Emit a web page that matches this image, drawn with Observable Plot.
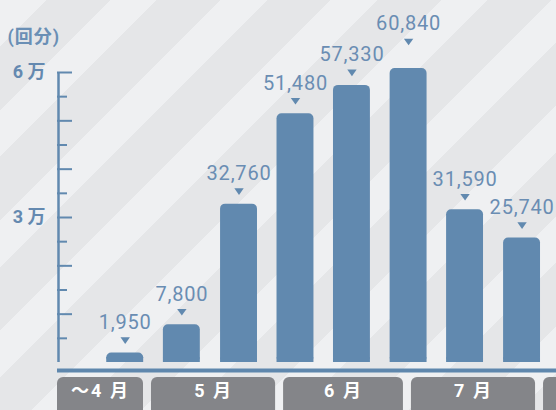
<!DOCTYPE html>
<html><head><meta charset="utf-8">
<script src="https://cdn.jsdelivr.net/npm/d3@7"></script>
<script src="https://cdn.jsdelivr.net/npm/@observablehq/plot@0.6"></script>
<style>
html,body{margin:0;padding:0;overflow:hidden;background:#eceef0;}
#chart{width:556px;height:410px;overflow:hidden;background:repeating-linear-gradient(135deg,#eff0f2 0 33px,#e5e6e8 33px 78px);}
#chart svg{background:transparent;display:block;}
</style></head><body><div id="chart"></div>
<script>
// --- data ---
const periods = ["2021-04-24T20:00Z","2021-05-08T03:00Z","2021-05-21T13:00Z","2021-06-03T19:00Z","2021-06-17T01:00Z","2021-06-30T08:00Z","2021-07-13T14:00Z","2021-07-26T23:00Z"];
const values = [1950, 7800, 32760, 51480, 57330, 60840, 31590, 25740];
const monthLabels = ["〜4 月","5 月","6 月","7 月","8 月"];
const monthStarts = ["2021-04-01","2021-05-01","2021-06-01","2021-07-01","2021-08-01"];
const monthEnds   = ["2021-05-01","2021-06-01","2021-07-01","2021-08-01","2021-09-01"];
const yTickLabels = ["3 万","6 万"];
const yTickLabelValues = [30000, 60000];
const majorTicks = [10000, 20000, 30000, 40000, 50000, 60000];
const minorTicks = [5000, 15000, 25000, 35000, 45000, 55000];
const unitLabel = "(回分)";

// --- build ---
const xDomain = [new Date("2021-04-08T22:40Z"), new Date("2021-08-04T01:00Z")];
const bars = periods.map((p, i) => ({date: new Date(p), value: values[i], prev: i > 0 ? values[i-1] : null}));
bars.forEach(d => { d.lift = d.prev != null && d.value > d.prev && d.value - d.prev < 5000; });
const months = monthLabels.map((m, i) => {
  const s = new Date(monthStarts[i]), e = new Date(monthEnds[i]);
  const x1 = s < xDomain[0] ? xDomain[0] : s;
  const x2 = d3.utcHour.offset(e, -45);
  return {label: m, x1, x2, mid: new Date((+x1 + +x2) / 2)};
});
const fmt = d3.format(",");
const blue = "#6189af";
const labelBlue = "#6a8db3";
const half = 104; // hours
const downTri = {draw(ctx) { ctx.moveTo(-4.7, -3.3); ctx.lineTo(4.7, -3.3); ctx.lineTo(0, 3.3); ctx.closePath(); }};

const chart = Plot.plot({
  width: 556, height: 410,
  marginLeft: 57, marginRight: 0, marginTop: 72, marginBottom: 48,
  x: {type: "utc", domain: xDomain, axis: null},
  y: {domain: [0, 60000], axis: null},
  style: {background: "transparent", fontFamily: "Roboto, 'Noto Sans CJK JP', sans-serif"},
  marks: [
    Plot.rect(months, {x1: "x1", x2: "x2", fill: "#848589", rx: 6, insetTop: 305, insetBottom: -60}),
    Plot.text(months.filter(d => d.mid < xDomain[1]), {x: "mid", text: "label", frameAnchor: "bottom", dy: 34, fill: "#ffffff", fontSize: 18, fontWeight: "bold"}),
    Plot.ruleY([0], {stroke: "#5f87ad", strokeWidth: 4, dy: 8}),
    Plot.ruleX([xDomain[0]], {stroke: blue, strokeWidth: 2.5, dx: 1}),
    Plot.ruleY(majorTicks, {stroke: blue, strokeWidth: 2, insetRight: 484}),
    Plot.ruleY(minorTicks, {stroke: blue, strokeWidth: 2, insetRight: 489}),
    Plot.text(yTickLabels.map((t, i) => ({t, v: yTickLabelValues[i]})), {x: () => xDomain[0], y: "v", text: "t", textAnchor: "end", dx: -12, fill: "#6489b0", fontSize: 18, fontWeight: "bold"}),
    Plot.text([unitLabel], {frameAnchor: "top-left", dx: -50, dy: -42, textAnchor: "start", fill: "#6a8fb5", fontSize: 18, fontWeight: "bold"}),
    Plot.rectY(bars, {x1: d => d3.utcHour.offset(d.date, -half), x2: d => d3.utcHour.offset(d.date, half), y1: 0, y2: "value", fill: blue, rx: 5}),
    Plot.rectY(bars, {x1: d => d3.utcHour.offset(d.date, -half), x2: d => d3.utcHour.offset(d.date, half), y1: 0, y2: d => Math.min(d.value, 1000), fill: blue}),
    Plot.dot(bars.filter(d => !d.lift), {x: "date", y: "value", symbol: downTri, r: 3, fill: blue, dy: -12.5}),
    Plot.dot(bars.filter(d => d.lift), {x: "date", y: "value", symbol: downTri, r: 3, fill: blue, dy: -26.5}),
    Plot.text(bars.filter(d => !d.lift), {x: "date", y: "value", text: d => fmt(d.value), dy: -30.5, fill: labelBlue, fontSize: 20}),
    Plot.text(bars.filter(d => d.lift), {x: "date", y: "value", text: d => fmt(d.value), dy: -44.5, fill: labelBlue, fontSize: 20})
  ]
});
d3.select(chart).selectAll(`g[fill='${labelBlue}'] text`).style("letter-spacing", "0.8px");
d3.select(chart).selectAll(`g[fill='#6a8fb5'] text`).style("letter-spacing", "1px");
d3.select(chart).selectAll(`g[fill='#ffffff'] text`).style("letter-spacing", "2px");
document.getElementById("chart").appendChild(chart);
</script></body></html>
